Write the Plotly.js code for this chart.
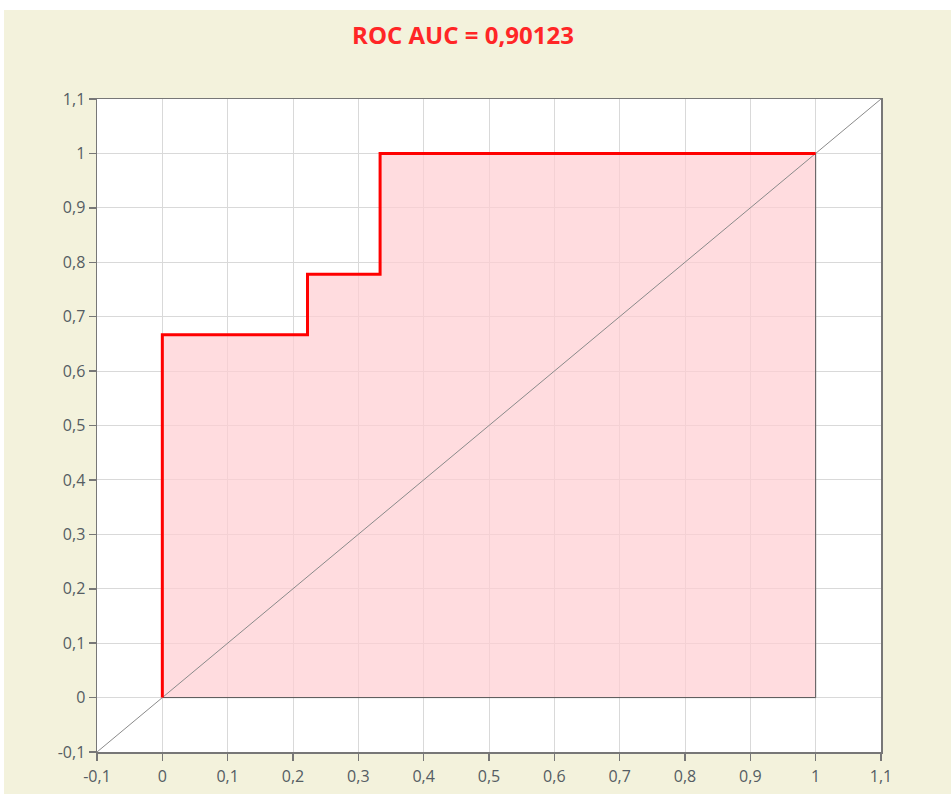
<!DOCTYPE html>
<html>
<head>
<meta charset="utf-8">
<script src="https://cdn.plot.ly/plotly-3.0.1.min.js"></script>
<style>
html,body{margin:0;padding:0;background:#ffffff;}
#chart{position:absolute;left:4px;top:10px;width:947px;height:784px;}
</style>
</head>
<body>
<div id="chart"></div>
<script>
// ROC curve points (false positive rate, true positive rate), step-wise
const fpr = [0, 0, 0.2222, 0.3333, 1];
const tpr = [0, 0.6667, 0.7778, 1, 1];
// Area polygon under the curve
const areaX = [0, 0, 0.2222, 0.2222, 0.3333, 0.3333, 1, 1, 0];
const areaY = [0, 0.6667, 0.6667, 0.7778, 0.7778, 1, 1, 0, 0];
// Chance diagonal
const diagX = [-0.1, 1.1];
const diagY = [-0.1, 1.1];
const aucText = 'ROC AUC = 0,90123';
// Tick values and labels (comma decimal separator)
const tickVals = [-0.1, 0, 0.1, 0.2, 0.3, 0.4, 0.5, 0.6, 0.7, 0.8, 0.9, 1, 1.1];
const tickLabels = ['-0,1', '0', '0,1', '0,2', '0,3', '0,4', '0,5', '0,6', '0,7', '0,8', '0,9', '1', '1,1'];

const traces = [
  {x: areaX, y: areaY, type: 'scatter', mode: 'lines', fill: 'toself',
   fillcolor: 'rgba(255,205,210,0.7)', line: {color: '#555555', width: 1},
   hoverinfo: 'skip', showlegend: false},
  {x: diagX, y: diagY, type: 'scatter', mode: 'lines',
   line: {color: '#8a8a8a', width: 1}, showlegend: false},
  {x: fpr, y: tpr, type: 'scatter', mode: 'lines',
   line: {color: '#ff0000', width: 3, shape: 'hv'}, showlegend: false}
];

const axisCommon = {
  range: [-0.1, 1.1], tickmode: 'array', tickvals: tickVals, ticktext: tickLabels,
  showgrid: true, gridcolor: '#d9d9d9', gridwidth: 1,
  zeroline: false, showline: true, linecolor: '#777777', linewidth: 1.5,
  mirror: true, ticks: 'outside', ticklen: 7, tickcolor: '#777777', tickwidth: 1.5,
  tickfont: {family: 'Open Sans, sans-serif', size: 16, color: '#555d63'},
  fixedrange: true
};

const layout = {
  width: 947, height: 784,
  paper_bgcolor: '#f3f2dc', plot_bgcolor: '#ffffff',
  margin: {l: 93, r: 70, t: 89, b: 42},
  title: {text: '<b>' + aucText + '</b>', x: 0.4847, xanchor: 'center', xref: 'container',
          y: 0.967, yanchor: 'middle', yref: 'container',
          font: {family: 'Open Sans, sans-serif', size: 24, color: '#ff2626'}},
  xaxis: Object.assign({}, axisCommon, {ticklabelstandoff: 2}),
  yaxis: Object.assign({}, axisCommon),
  showlegend: false
};

Plotly.newPlot('chart', traces, layout, {displayModeBar: false, staticPlot: true});
</script>
</body>
</html>
